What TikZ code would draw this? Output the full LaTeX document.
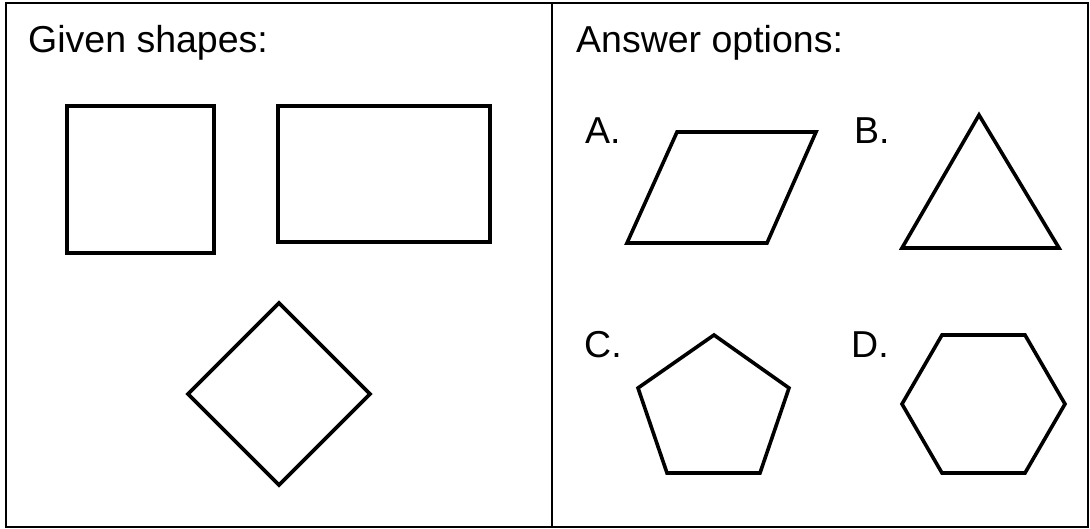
\documentclass[tikz,border=0pt]{standalone}
\usepackage{fontspec}
\setmainfont{Liberation Sans}
\begin{document}
\begin{tikzpicture}[x=1pt,y=-1pt,
  shapeline/.style={draw=black,line width=3.6pt,line join=miter},
  frameline/.style={draw=black,line width=2pt},
  label/.style={anchor=base west,inner sep=0pt,font=\fontsize{37.5}{40}\selectfont}]
\useasboundingbox (0,0) rectangle (1090,529);
% frame
\draw[frameline] (6,3) rectangle (1088,527);
\draw[frameline] (552,3) -- (552,527);
% titles
\node[label] (given) at (28,53) {Given shapes:};
\node[label] (answer) at (576,53) {Answer options:};
% given shapes
\draw[shapeline] (67,106) rectangle (214,253);
\draw[shapeline] (278,106) rectangle (490,242);
\draw[shapeline] (279,303) -- (370,394) -- (279,485) -- (188,394) -- cycle;
% options
\node[label] (la) at (585,144) {A.};
\node[label] (lb) at (854,144) {B.};
\node[label] (lc) at (584,358) {C.};
\node[label] (ld) at (851,358) {D.};
\draw[shapeline] (677,132) -- (816,132) -- (767,243) -- (627,243) -- cycle;
\draw[shapeline] (979,115) -- (1059,248) -- (902,248) -- cycle;
\draw[shapeline] (714,335) -- (789,388) -- (760,473) -- (667,473) -- (638,388) -- cycle;
\draw[shapeline] (942,335) -- (1025,335) -- (1065,404) -- (1025,473) -- (942,473) -- (902,404) -- cycle;
\end{tikzpicture}
\end{document}
